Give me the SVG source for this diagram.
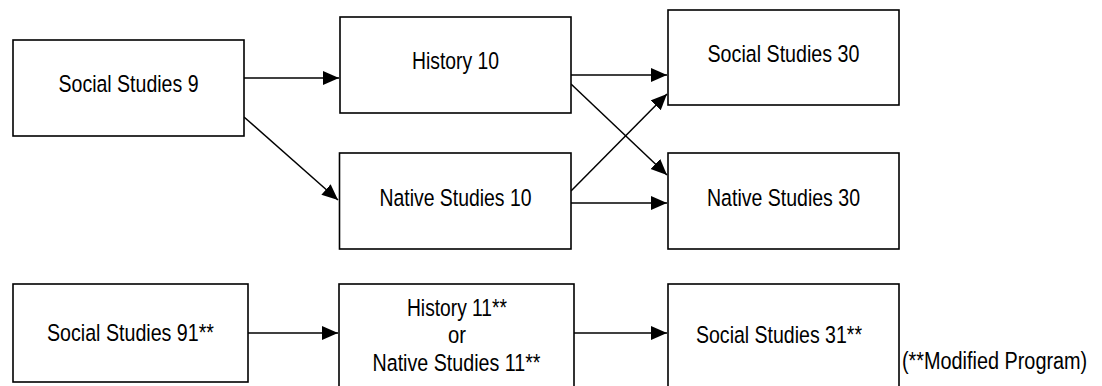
<svg xmlns="http://www.w3.org/2000/svg" width="1102" height="386" viewBox="0 0 1102 386">
<style>
.box{fill:#fff;stroke:#000;stroke-width:1.6}
.lbl{font-family:"Liberation Sans Narrow","Liberation Sans",Arial,sans-serif;font-size:24.5px;fill:#000;text-anchor:middle}
.note{font-family:"Liberation Sans Narrow","Liberation Sans",Arial,sans-serif;font-size:24.5px;fill:#000}
.edge{fill:none;stroke:#000;stroke-width:1.5;marker-end:url(#arr)}
</style>
<defs>
<marker id="arr" markerUnits="userSpaceOnUse" markerWidth="18" markerHeight="15" refX="16" refY="7" orient="auto">
<path d="M0,0 L16,7 L0,14 Z" fill="#000"/>
</marker>
</defs>
<rect width="1102" height="386" fill="#fff"/>
<g id="connectors">
<line class="edge" x1="244" y1="78" x2="339" y2="78"/>
<line class="edge" x1="244" y1="117" x2="338" y2="200"/>
<line class="edge" x1="571" y1="75" x2="667" y2="75"/>
<line class="edge" x1="571" y1="84" x2="667" y2="175"/>
<line class="edge" x1="571" y1="191" x2="667" y2="94"/>
<line class="edge" x1="571" y1="203" x2="667" y2="203"/>
<line class="edge" x1="248" y1="333" x2="338" y2="333"/>
<line class="edge" x1="574" y1="333" x2="667" y2="333"/>
</g>
<g id="ss9">
<rect class="box" x="13" y="40" width="231" height="96"/>
<text class="lbl" x="128.5" y="92" textLength="140" lengthAdjust="spacingAndGlyphs">Social Studies 9</text>
</g>
<g id="history10">
<rect class="box" x="340" y="17" width="231" height="96"/>
<text class="lbl" x="455.5" y="69" textLength="87" lengthAdjust="spacingAndGlyphs">History 10</text>
</g>
<g id="native10">
<rect class="box" x="339.5" y="153" width="231.5" height="96"/>
<text class="lbl" x="455.5" y="206" textLength="152" lengthAdjust="spacingAndGlyphs">Native Studies 10</text>
</g>
<g id="ss30">
<rect class="box" x="668" y="10" width="231" height="95"/>
<text class="lbl" x="783.5" y="62" textLength="152" lengthAdjust="spacingAndGlyphs">Social Studies 30</text>
</g>
<g id="native30">
<rect class="box" x="668" y="153" width="231" height="96"/>
<text class="lbl" x="783.5" y="206" textLength="153" lengthAdjust="spacingAndGlyphs">Native Studies 30</text>
</g>
<g id="ss91">
<rect class="box" x="13" y="284" width="235" height="98"/>
<text class="lbl" x="130.5" y="341" textLength="167" lengthAdjust="spacingAndGlyphs">Social Studies 91**</text>
</g>
<g id="history11">
<rect class="box" x="339" y="284" width="235" height="110"/>
<text class="lbl" x="457" y="316" textLength="100" lengthAdjust="spacingAndGlyphs">History 11**</text>
<text class="lbl" x="457" y="343" textLength="18" lengthAdjust="spacingAndGlyphs">or</text>
<text class="lbl" x="456.5" y="371" textLength="168" lengthAdjust="spacingAndGlyphs">Native Studies 11**</text>
</g>
<g id="ss31">
<rect class="box" x="668" y="284" width="231" height="110"/>
<text class="lbl" x="779" y="343" textLength="166" lengthAdjust="spacingAndGlyphs">Social Studies 31**</text>
</g>
<g id="note">
<text class="note" transform="translate(902 369) scale(0.81 1)" x="0" y="0">(**Modified Program)</text>
</g>
</svg>
